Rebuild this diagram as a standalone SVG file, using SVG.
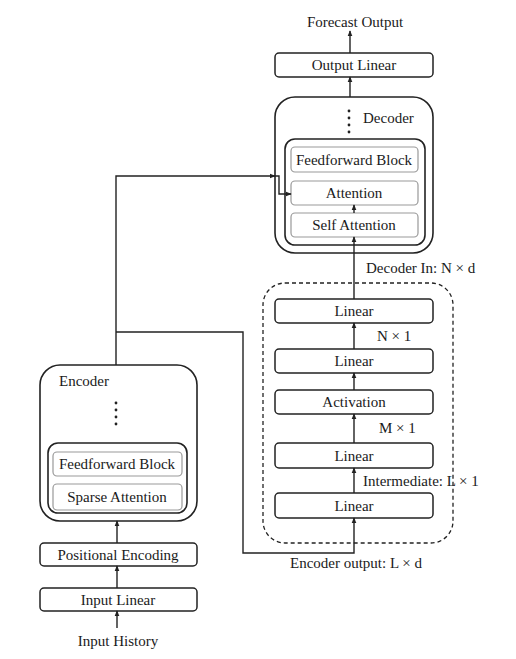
<svg xmlns="http://www.w3.org/2000/svg" width="516" height="659" viewBox="0 0 516 659">
<style>
text{font-family:'Liberation Serif','DejaVu Serif','Times New Roman',serif;font-size:15px;fill:#1a1a1a;}
.c{text-anchor:middle;}
.box{fill:#fff;stroke:#222;stroke-width:1.5;}
.big{fill:#fff;stroke:#222;stroke-width:1.6;}
.sub{fill:#fff;stroke:#999;stroke-width:1.2;}
.dash{fill:none;stroke:#222;stroke-width:1.3;stroke-dasharray:4 3;}
.ln{fill:none;stroke:#222;stroke-width:1.4;}
.dot{fill:#222;}
</style>
<defs>
<marker id="ah" viewBox="0 0 8 8" refX="7" refY="4" markerWidth="6" markerHeight="6" orient="auto" markerUnits="userSpaceOnUse">
<path d="M0,0.8 L8,4 L0,7.2 z" fill="#222"/>
</marker>
</defs>
<rect width="516" height="659" fill="#fff"/>
<g font-family="Liberation Serif, serif">
<g id="forecast-output"><text class="c" x="355" y="27">Forecast Output</text></g>

<g id="output-linear">
<rect class="box" x="275" y="53" width="158" height="24" rx="4"/>
<text class="c" x="354" y="70">Output Linear</text>
</g>

<g id="decoder">
<rect class="big" x="275" y="97" width="158" height="156" rx="20"/>
<text x="363" y="123">Decoder</text>
<circle class="dot" cx="349" cy="111" r="1.4"/>
<circle class="dot" cx="349" cy="118" r="1.4"/>
<circle class="dot" cx="349" cy="125" r="1.4"/>
<circle class="dot" cx="349" cy="132" r="1.4"/>
<rect class="big" x="285" y="139" width="140" height="106" rx="10"/>
<g id="dec-feedforward"><rect class="sub" x="291" y="147" width="127" height="25" rx="4"/><text class="c" x="354" y="165">Feedforward Block</text></g>
<g id="dec-attention"><rect class="sub" x="291" y="181" width="127" height="24" rx="4"/><text class="c" x="354" y="198">Attention</text></g>
<g id="dec-self-attention"><rect class="sub" x="291" y="213" width="127" height="24" rx="4"/><text class="c" x="354" y="230">Self Attention</text></g>
</g>

<g id="mlp-block">
<rect class="dash" x="263" y="283" width="190" height="260" rx="22"/>
<g id="linear1"><rect class="box" x="275" y="299" width="158" height="24" rx="4"/><text class="c" x="354" y="316">Linear</text></g>
<g id="linear2"><rect class="box" x="275" y="349" width="158" height="24" rx="4"/><text class="c" x="354" y="366">Linear</text></g>
<g id="activation"><rect class="box" x="275" y="390" width="158" height="24" rx="4"/><text class="c" x="354" y="407">Activation</text></g>
<g id="linear3"><rect class="box" x="275" y="443" width="158" height="25" rx="4"/><text class="c" x="354" y="461">Linear</text></g>
<g id="linear4"><rect class="box" x="275" y="493" width="158" height="25" rx="4"/><text class="c" x="354" y="511">Linear</text></g>
</g>

<g id="encoder">
<rect class="big" x="40" y="365" width="157" height="156" rx="20"/>
<text x="59" y="386">Encoder</text>
<circle class="dot" cx="116" cy="403" r="1.4"/>
<circle class="dot" cx="116" cy="410" r="1.4"/>
<circle class="dot" cx="116" cy="417" r="1.4"/>
<circle class="dot" cx="116" cy="424" r="1.4"/>
<rect class="big" x="48" y="443" width="139" height="70" rx="10"/>
<g id="enc-feedforward"><rect class="sub" x="53" y="452" width="129" height="24" rx="4"/><text class="c" x="117" y="469">Feedforward Block</text></g>
<g id="enc-sparse-attention"><rect class="sub" x="53" y="484" width="129" height="26" rx="4"/><text class="c" x="117" y="502">Sparse Attention</text></g>
</g>

<g id="positional-encoding"><rect class="box" x="40" y="543" width="157" height="23" rx="4"/><text class="c" x="118" y="560">Positional Encoding</text></g>
<g id="input-linear"><rect class="box" x="40" y="588" width="157" height="23" rx="4"/><text class="c" x="118" y="605">Input Linear</text></g>
<g id="input-history"><text class="c" x="118" y="646">Input History</text></g>

<g id="labels">
<text x="366" y="273">Decoder In: N × d</text>
<text x="377" y="341">N × 1</text>
<text x="379" y="433">M × 1</text>
<text x="363" y="486">Intermediate: L × 1</text>
<text class="c" x="356" y="568">Encoder output: L × d</text>
</g>
</g>
<g id="connectors">
<line class="ln" x1="350" y1="53" x2="350" y2="31" marker-end="url(#ah)"/>
<line class="ln" x1="350" y1="97" x2="350" y2="77" marker-end="url(#ah)"/>
<line class="ln" x1="354" y1="213" x2="354" y2="205" marker-end="url(#ah)"/>
<line class="ln" x1="354" y1="299" x2="354" y2="237" marker-end="url(#ah)"/>
<line class="ln" x1="354" y1="349" x2="354" y2="323" marker-end="url(#ah)"/>
<line class="ln" x1="354" y1="390" x2="354" y2="373" marker-end="url(#ah)"/>
<line class="ln" x1="354" y1="443" x2="354" y2="414" marker-end="url(#ah)"/>
<line class="ln" x1="354" y1="493" x2="354" y2="468" marker-end="url(#ah)"/>
<path class="ln" d="M116,365 V176 H275" marker-end="url(#ah)"/>
<path class="ln" d="M275,176 H279 V194 H291" marker-end="url(#ah)"/>
<path class="ln" d="M116,332 H243 V553 H354 V518" marker-end="url(#ah)"/>
<line class="ln" x1="117" y1="543" x2="117" y2="521" marker-end="url(#ah)"/>
<line class="ln" x1="117" y1="588" x2="117" y2="566" marker-end="url(#ah)"/>
<line class="ln" x1="117" y1="628" x2="117" y2="611" marker-end="url(#ah)"/>
</g>
</svg>
